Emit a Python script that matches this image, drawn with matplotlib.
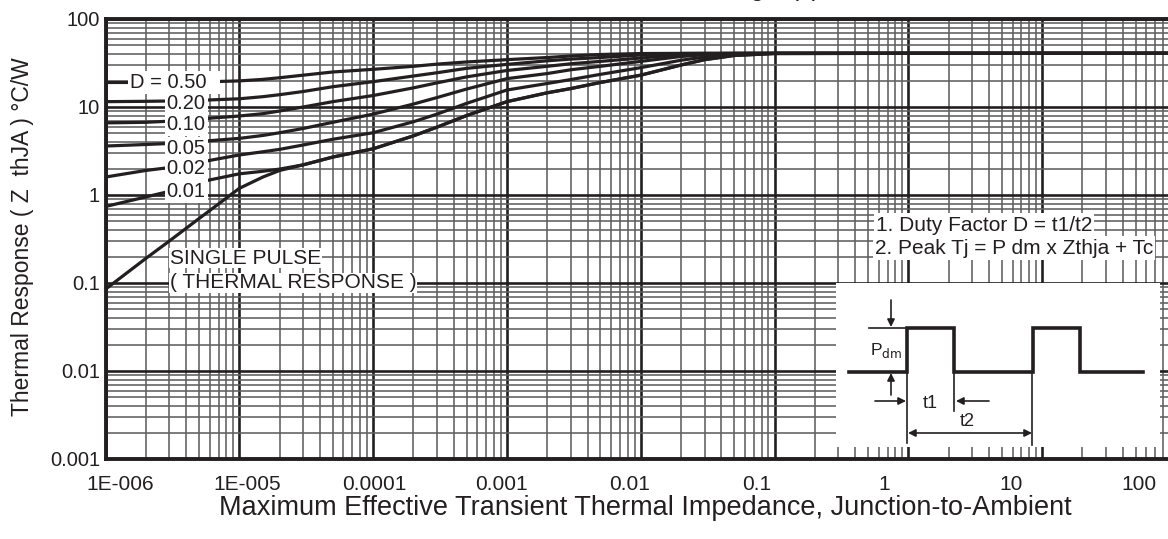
import matplotlib
matplotlib.use("Agg")
import matplotlib.pyplot as plt
from matplotlib.ticker import LogLocator, FixedLocator, FixedFormatter, NullFormatter

plt.rcParams["font.family"] = ["Liberation Sans", "DejaVu Sans"]

INK = "#231f20"
W, H = 1168, 539

# pulse duration (s)
t = [1e-6, 2e-6, 3e-6, 5e-6, 1e-5, 1.5e-5, 2e-5, 3e-5, 5e-5, 1e-4, 2e-4, 3e-4, 5e-4,
     1e-3, 2e-3, 3e-3, 5e-3, 1e-2, 2e-2, 3e-2, 5e-2, 1e-1, 1, 10, 100]

# thermal response Zth (degC/W) for each duty factor
z_d050 = [19.0, 19.0, 19.1, 19.2, 19.8, 20.6, 21.5, 23.0, 25.0, 26.8, 29.0, 30.7, 32.5,
          34.5, 36.5, 38.0, 39.5, 40.5, 40.7, 40.7, 40.7, 40.7, 40.7, 40.7, 40.7]
z_d020 = [11.5, 11.6, 11.7, 11.9, 12.4, 13.1, 13.8, 15.0, 17.0, 19.4, 22.5, 24.5, 27.5,
          30.5, 33.5, 35.0, 36.5, 39.0, 40.5, 40.7, 40.7, 40.7, 40.7, 40.7, 40.7]
z_d010 = [6.6, 6.7, 6.9, 7.3, 7.9, 8.4, 9.0, 10.0, 11.5, 13.5, 16.5, 18.8, 22.0,
          26.0, 29.0, 31.0, 33.0, 36.0, 39.5, 40.3, 40.7, 40.7, 40.7, 40.7, 40.7]
z_d005 = [3.6, 3.75, 3.85, 4.05, 4.4, 4.75, 5.1, 5.7, 6.7, 8.3, 10.8, 12.8, 16.0,
          21.0, 24.0, 26.5, 29.0, 33.0, 37.5, 39.3, 40.5, 40.7, 40.7, 40.7, 40.7]
z_d002 = [1.6, 1.9, 2.05, 2.35, 2.85, 3.1, 3.3, 3.7, 4.3, 5.1, 6.8, 8.3, 11.0,
          15.6, 18.5, 20.5, 23.5, 28.0, 34.0, 37.0, 40.0, 40.7, 40.7, 40.7, 40.7]
z_d001 = [0.74, 0.95, 1.1, 1.4, 1.74, 1.86, 1.97, 2.2, 2.7, 3.35, 4.7, 5.9, 8.0,
          11.5, 14.5, 16.2, 19.0, 23.0, 30.0, 34.5, 38.5, 40.5, 40.7, 40.7, 40.7]
z_single = [0.085, 0.19, 0.3, 0.54, 1.19, 1.6, 1.9, 2.2, 2.7, 3.35, 4.7, 5.9, 8.0,
            11.5, 14.5, 16.2, 19.0, 23.0, 30.0, 34.5, 38.5, 40.5, 40.7, 40.7, 40.7]

curves = [z_d050, z_d020, z_d010, z_d005, z_d002, z_d001, z_single]

x_labels = ["1E-006", "1E-005", "0.0001", "0.001", "0.01", "0.1", "1", "10", "100"]
y_ticks = [0.001, 0.01, 0.1, 1, 10, 100]
y_labels = ["0.001", "0.01", "0.1", "1", "10", "100"]

fig = plt.figure(figsize=(W / 100, H / 100), dpi=100)
ax = fig.add_axes([105.5 / W, (H - 459) / H, (1176 - 105.5) / W, 440 / H])

for z in curves:
    ax.plot(t, z, color=INK, lw=2.3, solid_capstyle="butt", solid_joinstyle="round", zorder=3)

ax.set_xscale("log")
ax.set_yscale("log")
ax.set_xlim(1e-6, 100)
ax.set_ylim(0.001, 100)

ax.xaxis.set_major_locator(LogLocator(base=10, numticks=20))
ax.xaxis.set_minor_locator(LogLocator(base=10, subs=range(2, 10), numticks=200))
ax.xaxis.set_major_formatter(NullFormatter())
ax.xaxis.set_minor_formatter(NullFormatter())
ax.yaxis.set_major_locator(FixedLocator(y_ticks))
ax.yaxis.set_major_formatter(FixedFormatter(y_labels))
ax.yaxis.set_minor_locator(LogLocator(base=10, subs=range(2, 10), numticks=200))
ax.yaxis.set_minor_formatter(NullFormatter())

ax.set_axisbelow(True)
ax.grid(which="major", color=INK, lw=1.9)
ax.grid(which="minor", color="#5f5f5f", lw=1.15)
ax.tick_params(which="both", length=0)
ax.tick_params(axis="y", labelsize=14.5, pad=4, labelcolor=INK)
for side in ["left", "bottom", "top"]:
    ax.spines[side].set_linewidth(2.8)
    ax.spines[side].set_color(INK)
ax.spines["right"].set_visible(False)

# decade labels along the time axis
for k, lab in enumerate(x_labels):
    ax.text(10 ** (-6 + 0.108 + 0.9515 * k), -0.059, lab, transform=ax.get_xaxis_transform(),
            ha="center", va="center", fontsize=15, color=INK)

ax.set_ylabel("Thermal Response ( Z  thJA ) \u00b0C/W", fontsize=16.5, color=INK)
ax.yaxis.set_label_coords(-0.0665, 0.505)

fig.text(645 / W, 1 - 508 / H, "Maximum Effective Transient Thermal Impedance, Junction-to-Ambient",
         ha="center", va="center", fontsize=19.5, color=INK)
fig.text(820 / W, 1 + 4 / H, "Pulse Time Rectangle (s)", ha="right", va="baseline",
         fontsize=18, color=INK)

# curve labels
box = dict(facecolor="white", edgecolor="none", pad=1.5)
ax.text(1.52e-6, 19.0, "D = 0.50  ", fontsize=14.5, color=INK, va="center", ha="left", bbox=box, zorder=4)
duty_labels = ["0.20", "0.10", "0.05", "0.02", "0.01"]
duty_y = [11.0, 6.4, 3.4, 2.0, 1.1]
for lab, yv in zip(duty_labels, duty_y):
    ax.text(5.6e-6, yv, lab, fontsize=14.5, color=INK, va="center", ha="right", bbox=box, zorder=4)

ax.text(3.03e-6, 0.192, "SINGLE PULSE", fontsize=15, color=INK, va="center", ha="left",
        bbox=dict(facecolor="white", edgecolor="none", pad=0.5), zorder=4)
ax.text(3.03e-6, 0.1, "( THERMAL RESPONSE )", fontsize=15, color=INK, va="center", ha="left",
        bbox=dict(facecolor="white", edgecolor="none", pad=0.5), zorder=4)

# notes
note_box = dict(facecolor="white", edgecolor="none", pad=1.5)
fig.text(876 / W, 1 - 225 / H, "1. Duty Factor D = t1/t2", fontsize=15, color=INK,
         va="center", ha="left", bbox=note_box)
fig.text(875 / W, 1 - 248 / H, "2. Peak Tj = P dm x Zthja + Tc", fontsize=15, color=INK,
         va="center", ha="left", bbox=note_box)

# pulse train sketch
ins = fig.add_axes([836 / W, (H - 447) / H, 324 / W, 164 / H])
ins.set_facecolor("white")
ins.set_xlim(0, 324)
ins.set_ylim(164, 0)
ins.set_xticks([])
ins.set_yticks([])
for s in ins.spines.values():
    s.set_visible(False)

wave_x = [13, 71, 71, 118, 118, 197, 197, 244, 244, 307]
wave_y = [89, 89, 45, 45, 89, 89, 45, 45, 89, 89]
ins.plot(wave_x, wave_y, color=INK, lw=2.6, solid_joinstyle="miter")
ins.plot([33, 71], [45, 45], color=INK, lw=1.2)
ins.plot([71, 71], [45, 160], color=INK, lw=1.2)
ins.plot([118, 118], [89, 128], color=INK, lw=1.2)
ins.plot([196, 196], [89, 162], color=INK, lw=1.2)

arrow = dict(arrowstyle="-|>", lw=1.2, color=INK, mutation_scale=11, shrinkA=0, shrinkB=0)
ins.annotate("", xy=(55, 44), xytext=(55, 17), arrowprops=arrow)
ins.annotate("", xy=(55, 90), xytext=(55, 112), arrowprops=arrow)
ins.annotate("", xy=(70, 118), xytext=(39, 118), arrowprops=arrow)
ins.annotate("", xy=(120, 118), xytext=(153, 118), arrowprops=arrow)
ins.annotate("", xy=(72, 150), xytext=(196, 150),
             arrowprops=dict(arrowstyle="<|-|>", lw=1.2, color=INK, mutation_scale=11, shrinkA=0, shrinkB=0))

ins.text(50, 67, "P$_{\\mathrm{dm}}$", fontsize=12.5, color=INK, ha="center", va="center")
ins.text(94, 120, "t1", fontsize=13, color=INK, ha="center", va="center")
ins.text(131, 139, "t2", fontsize=13, color=INK, ha="center", va="center")

fig.savefig("out.png", dpi=100)
